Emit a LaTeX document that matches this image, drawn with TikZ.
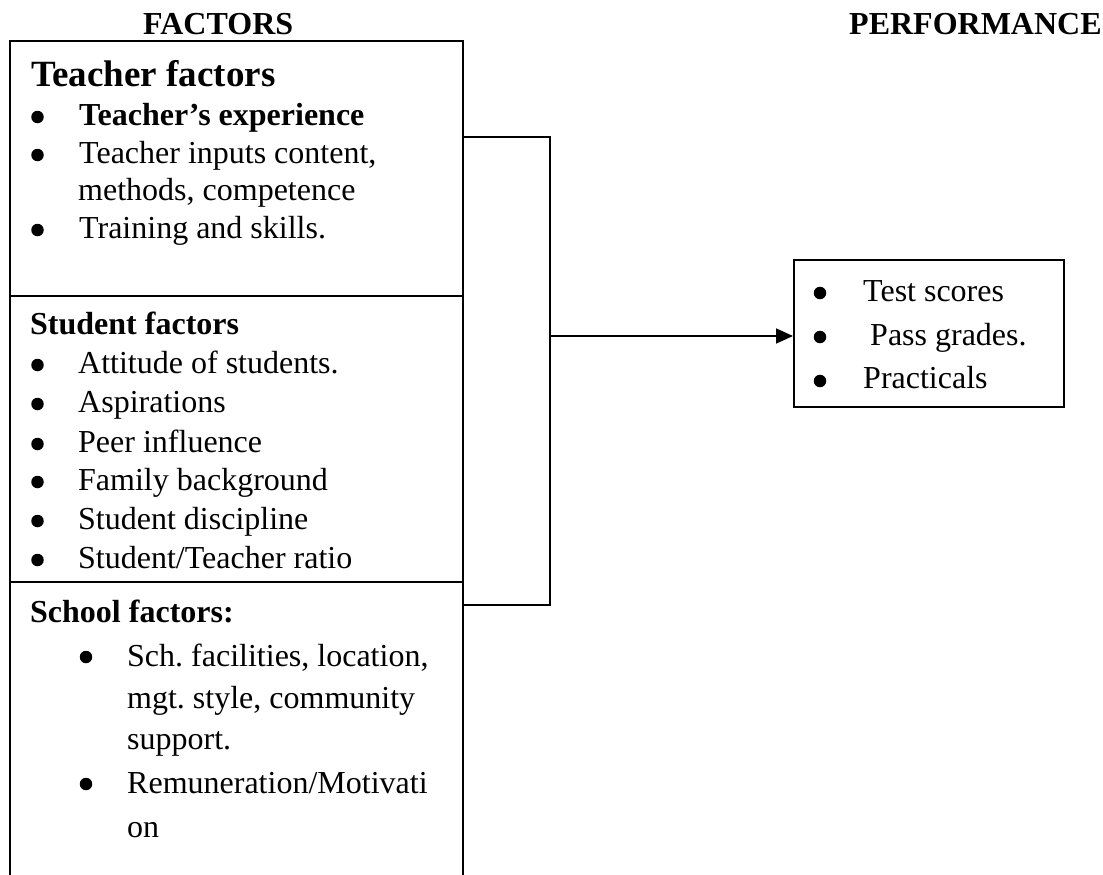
\documentclass[tikz,border=0pt]{standalone}
\usepackage{fontspec}
\setmainfont{Liberation Serif}
\usetikzlibrary{arrows.meta}
\frenchspacing
\newcommand\myBody{\fontsize{32}{37}\selectfont}
\newcommand\myBig{\fontsize{37}{43}\selectfont\bfseries}
\begin{document}
\begin{tikzpicture}[x=1pt,y=-1pt,
  txt/.style={anchor=base west,inner sep=0pt,font=\myBody},
  hd/.style={anchor=base west,inner sep=0pt,font=\myBody\bfseries},
  bul/.style={circle,fill=black,inner sep=0pt,minimum size=12.5pt},
  panel/.style={draw=black,line width=1.8pt,anchor=north west,inner sep=0pt},
  link/.style={draw=black,line width=1.8pt}]
\useasboundingbox (0,0) rectangle (1103,875);
% headers
\node[hd] (hf) at (143,35) {FACTORS};
\node[hd] (hp) at (849,35) {PERFORMANCE};
% left panels
\node[panel,minimum width=453pt,minimum height=255pt] (teach) at (9,40) {};
\node[panel,minimum width=453pt,minimum height=286pt] (stud) at (9,295) {};
\node[panel,minimum width=453pt,minimum height=320pt] (school) at (9,581) {};
% right panel
\node[panel,minimum width=270pt,minimum height=147pt] (perf) at (793,259) {};
% teacher text
\node[anchor=base west,inner sep=0pt,font=\myBig] (t0) at (31,86) {Teacher factors};
\node[bul] (tb1) at (37.5,117) {};
\node[hd] (t1) at (79,125) {Teacher’s experience};
\node[bul] (tb2) at (37.5,155) {};
\node[txt] (t2) at (79,163) {Teacher inputs content,};
\node[txt] (t3) at (78,200) {methods, competence};
\node[bul] (tb3) at (37.5,230) {};
\node[txt] (t4) at (79,238) {Training and skills.};
% student text
\node[hd] (s0) at (30,334) {Student factors};
\node[bul] (sb1) at (37.5,365) {};
\node[txt] (s1) at (78,373) {Attitude of students.};
\node[bul] (sb2) at (37.5,404) {};
\node[txt] (s2) at (78,412) {Aspirations};
\node[bul] (sb3) at (37.5,444) {};
\node[txt] (s3) at (78,452) {Peer influence};
\node[bul] (sb4) at (37.5,482) {};
\node[txt] (s4) at (78,490) {Family background};
\node[bul] (sb5) at (37.5,521) {};
\node[txt] (s5) at (78,529) {Student discipline};
\node[bul] (sb6) at (37.5,560) {};
\node[txt] (s6) at (78,568) {Student/Teacher ratio};
% school text
\node[hd] (c0) at (30,622) {School factors:};
\node[bul] (cb1) at (86,657) {};
\node[txt] (c1) at (127,666) {Sch. facilities, location,};
\node[txt] (c2) at (127,708) {mgt. style, community};
\node[txt] (c3) at (127,749) {support.};
\node[bul] (cb2) at (86,784) {};
\node[txt] (c4) at (127,793) {Remuneration/Motivati};
\node[txt] (c5) at (127,837) {on};
% performance text
\node[bul] (pb1) at (820,293) {};
\node[txt] (p1) at (863,301) {Test scores};
\node[bul] (pb2) at (820,337) {};
\node[txt] (p2) at (870,345) {Pass grades.};
\node[bul] (pb3) at (820,381) {};
\node[txt] (p3) at (863,388) {Practicals};
% connectors
\coordinate (bt) at (462,137);
\coordinate (bb) at (462,605);
\coordinate (bx) at (550,137);
\coordinate (by) at (550,605);
\coordinate (j) at (550,336);
\draw[link,line join=miter] (bt) -- (bx) -- (by) -- (bb);
\draw[link,-{Triangle[length=17pt,width=15pt]}] (j) -- (perf.west |- j);
\end{tikzpicture}
\end{document}
